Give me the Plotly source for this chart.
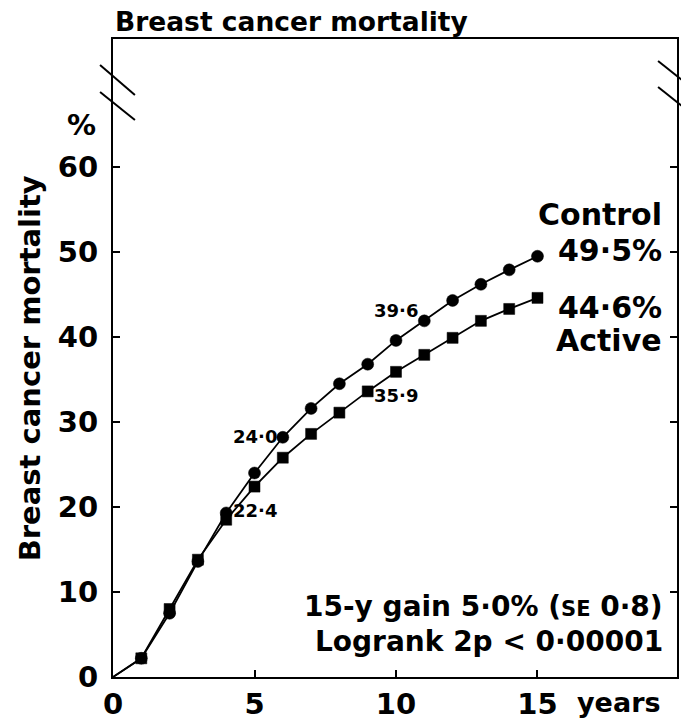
import plotly.graph_objects as go

# ---------------- data ----------------
years = list(range(0, 16))
control = [0, 2.2, 7.5, 13.6, 19.3, 24.0, 28.2, 31.6, 34.5, 36.8, 39.6, 41.9, 44.3, 46.2, 47.9, 49.5]
active = [0, 2.2, 8.0, 13.8, 18.5, 22.4, 25.8, 28.6, 31.1, 33.6, 35.9, 37.9, 39.9, 41.9, 43.3, 44.6]
x_ticks = [0, 5, 10, 15]
y_ticks = [0, 10, 20, 30, 40, 50, 60]
control_labelled = [5, 10]   # years whose control value is printed
active_labelled = [5, 10]    # years whose active value is printed

FONT = "DejaVu Sans"
W, H = 681, 728
ML, MR, MT, MB = 113, 2, 39, 51
PW, PH = W - ML - MR, H - MT - MB


def fmt(v):
    return f"{v:.1f}".replace(".", "\u00b7")


def px(x):
    return (x - ML) / PW


def py(y):
    return (H - MB - y) / PH


fig = go.Figure()
fig.add_trace(go.Scatter(
    x=years, y=control, mode="lines+markers", name="Control",
    line=dict(color="black", width=1.8),
    marker=dict(symbol="circle", color="black", size=[0] + [12] * (len(years) - 1),
                line=dict(color="black", width=0.5), opacity=1),
    showlegend=False,
))
fig.add_trace(go.Scatter(
    x=years, y=active, mode="lines+markers", name="Active",
    line=dict(color="black", width=1.8),
    marker=dict(symbol="square", color="black", size=[0] + [11] * (len(years) - 1),
                line=dict(color="black", width=0.5), opacity=1),
    showlegend=False,
))

ann = []
for yr in control_labelled:
    ann.append(dict(x=yr, y=control[yr], xref="x", yref="y", text=fmt(control[yr]),
                    showarrow=False, yshift=30 if yr == 10 else 37,
                    font=dict(family=FONT, size=18, color="black", weight="bold")))
for yr in active_labelled:
    ann.append(dict(x=yr, y=active[yr], xref="x", yref="y", text=fmt(active[yr]),
                    showarrow=False, yshift=-24,
                    font=dict(family=FONT, size=18, color="black", weight="bold")))

big = dict(family=FONT, size=30, color="black", weight="bold")
ann += [
    dict(x=px(666), y=py(214), xref="paper", yref="paper", text="Control",
         xanchor="right", yanchor="middle", showarrow=False, font=big),
    dict(x=px(666), y=py(251), xref="paper", yref="paper", text=fmt(control[-1]) + "%",
         xanchor="right", yanchor="middle", showarrow=False, font=big),
    dict(x=px(666), y=py(307), xref="paper", yref="paper", text=fmt(active[-1]) + "%",
         xanchor="right", yanchor="middle", showarrow=False, font=big),
    dict(x=px(666), y=py(340), xref="paper", yref="paper", text="Active",
         xanchor="right", yanchor="middle", showarrow=False, font=big),
    dict(x=px(667), y=py(606), xref="paper", yref="paper",
         text="15-y gain " + fmt(control[-1] - active[-1] + 0.1) + "% (<span style='font-size:21px'>SE</span> 0\u00b78)",
         xanchor="right", yanchor="middle", showarrow=False,
         font=dict(family=FONT, size=28, color="black", weight="bold")),
    dict(x=px(667), y=py(641), xref="paper", yref="paper",
         text="Logrank 2p &lt; 0\u00b700001",
         xanchor="right", yanchor="middle", showarrow=False,
         font=dict(family=FONT, size=28, color="black", weight="bold")),
    dict(x=px(113), y=py(22), xref="paper", yref="paper", text="Breast cancer mortality",
         xanchor="left", yanchor="middle", showarrow=False,
         font=dict(family=FONT, size=26.5, color="black", weight="bold")),
    dict(x=px(30), y=py(368), xref="paper", yref="paper", text="Breast cancer mortality",
         textangle=-90, xanchor="center", yanchor="middle", showarrow=False,
         font=dict(family=FONT, size=29, color="black", weight="bold")),
    dict(x=px(98), y=py(125), xref="paper", yref="paper", text="%",
         xanchor="right", yanchor="middle", showarrow=False, font=dict(family=FONT, size=29, color="black", weight="bold")),
    dict(x=px(665), y=py(702), xref="paper", yref="paper", text="years",
         xanchor="right", yanchor="middle", showarrow=False, font=dict(family=FONT, size=27, color="black", weight="bold")),
]

shapes = []
for (x0, y0, x1, y1) in [(100, 65, 135, 95), (100, 92, 135, 120), (660, 61, 684, 80), (660, 87, 684, 106)]:
    shapes.append(dict(type="line", xref="paper", yref="paper",
                       x0=px(x0), y0=py(y0), x1=px(x1), y1=py(y1),
                       line=dict(color="black", width=2)))

fig.update_layout(
    width=W, height=H,
    margin=dict(l=ML, r=MR, t=MT, b=MB, pad=0),
    paper_bgcolor="white", plot_bgcolor="white",
    font=dict(family=FONT, color="black"),
    annotations=ann, shapes=shapes,
    xaxis=dict(range=[0, PW / 28.4], tickvals=x_ticks, ticks="inside", ticklen=7, tickwidth=2,
               showline=True, linewidth=2, linecolor="black", mirror=True, showgrid=False,
               zeroline=False, tickcolor="black", ticklabelstandoff=0,
               tickfont=dict(family=FONT, size=29, color="black", weight="bold")),
    yaxis=dict(range=[0, PH / 8.5], tickvals=y_ticks, ticks="inside", ticklen=7, tickwidth=2,
               showline=True, linewidth=2, linecolor="black", mirror="ticks", showgrid=False,
               zeroline=False, tickcolor="black", ticklabelstandoff=7,
               tickfont=dict(family=FONT, size=29, color="black", weight="bold")),
)

fig.write_html("out.html", config={"displayModeBar": False},
               post_script="document.body.style.margin='0px';document.body.style.overflow='hidden';")
